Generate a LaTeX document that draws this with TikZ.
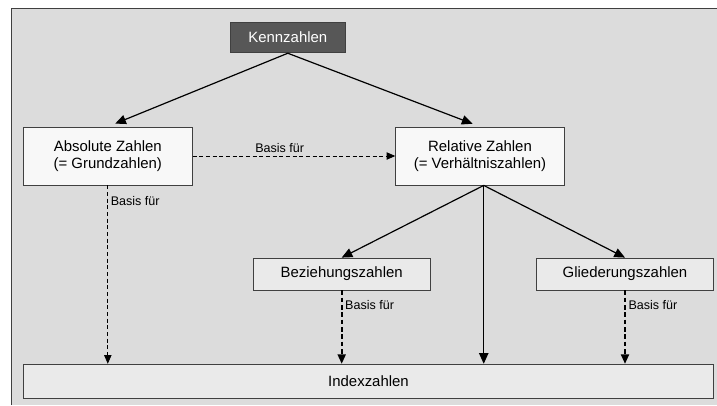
\documentclass[tikz,border=0pt]{standalone}
\usepackage{fontspec}
\setmainfont{Liberation Sans}
\usetikzlibrary{positioning,arrows.meta,calc}
\definecolor{frameBg}{HTML}{DCDCDC}
\definecolor{edge}{HTML}{404040}
\definecolor{topFill}{HTML}{575757}
\definecolor{lightFill}{HTML}{F8F8F8}
\definecolor{midFill}{HTML}{EAEAEA}

\begin{document}
\begin{tikzpicture}[x=0.75pt, y=-0.75pt,
    top/.style={draw=edge, fill=topFill, text=white, line width=0.6pt,
                font=\fontsize{11.2}{12.8}\selectfont,
                minimum width=86pt, minimum height=23pt, inner sep=0pt},
    group/.style={draw=edge, fill=lightFill, line width=0.6pt, align=center,
                font=\fontsize{11.2}{12.8}\selectfont,
                minimum width=126.5pt, minimum height=43.5pt, inner sep=0pt},
    sub/.style={draw=edge, fill=midFill, line width=0.6pt,
                font=\fontsize{11.2}{12.8}\selectfont,
                minimum width=132.5pt, minimum height=24pt, inner sep=0pt},
    solidarr/.style={line width=0.9pt, -{Triangle[length=8pt,width=7pt]}},
    basis/.style={dashed, line width=0.6pt, dash pattern=on 3pt off 2pt,
                -{Triangle[length=6.5pt,width=5.5pt]}},
    basisbold/.style={line width=1.3pt, dash pattern=on 3.5pt off 2pt,
                -{Triangle[length=7pt,width=6pt]}},
    tag/.style={font=\fontsize{9.4}{11}\selectfont, inner sep=2pt},
  ]
    \useasboundingbox (0,0) rectangle (717,405);
    % --- grey panel, clipped at right and bottom ---------------------------
    \fill[frameBg] (11,8) rectangle (717,405);
    \draw[edge, line width=0.6pt] (11,405) -- (11,8) -- (717,8);

    % --- nodes --------------------------------------------------------------
    \node[top]   (ken) at (287.8,37.5) {Kennzahlen};
    \node[group] (abs) at (107.8,156)  {Absolute Zahlen\\(= Grundzahlen)};
    \node[group] (rel) at (480,156)    {Relative Zahlen\\(= Verhältniszahlen)};
    \node[sub]   (bez) at (341.7,274)  {Beziehungszahlen};
    \node[sub]   (gli) at (625,274)    {Gliederungszahlen};
    \node[draw=edge, fill=midFill, line width=0.6pt,
          font=\fontsize{11.2}{12.8}\selectfont,
          minimum width=517.5pt, minimum height=26pt, inner sep=0pt]
          (idx) at (368.5,381.5) {Indexzahlen};
    \coordinate (fork) at ([xshift=2.8pt]rel.south);

    % --- solid arrows ------------------------------------------------------
    \draw[solidarr, shorten >=6pt] (ken.south) -- (abs.north);
    \draw[solidarr, shorten >=6pt] (ken.south) -- (rel.north);
    \draw[solidarr] (fork) -- (bez.north);
    \draw[solidarr] (fork) -- (gli.north);
    \draw[solidarr] (fork) -- (fork |- idx.north);

    % --- "Basis für" arrows ------------------------------------------------
    \draw[basis] (abs.east) -- node[tag, above, pos=0.43] {Basis für} (rel.west);
    \draw[basis] (abs.south) -- node[tag, right, pos=0.09] {Basis für} (abs.south |- idx.north);
    \draw[basisbold] (bez.south) -- node[tag, right, pos=0.2] {Basis für} (bez.south |- idx.north);
    \draw[basisbold] (gli.south) -- node[tag, right, pos=0.2] {Basis für} (gli.south |- idx.north);
\end{tikzpicture}
\end{document}
